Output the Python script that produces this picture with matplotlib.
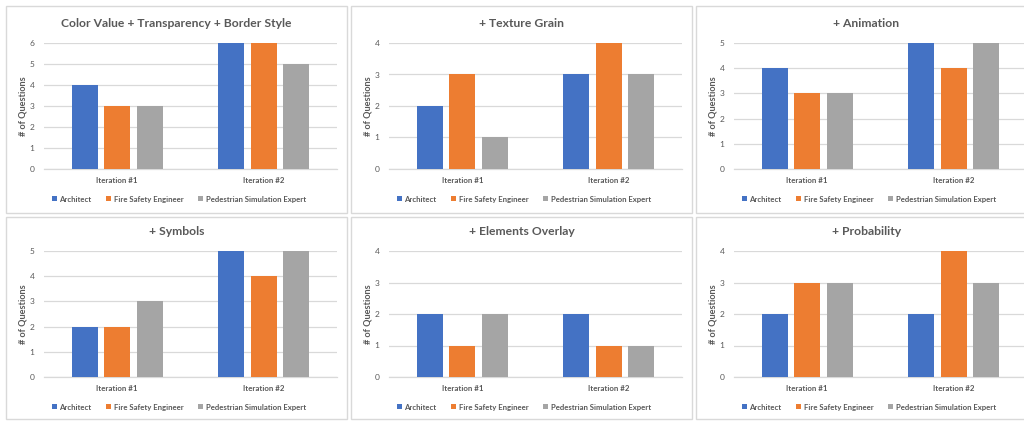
import matplotlib.pyplot as plt
from matplotlib.patches import Rectangle, Patch
import numpy as np

plt.rcParams['font.family'] = ['Lato', 'DejaVu Sans']

# data per panel: questions per role for iteration 1 and 2
titles = ["Color Value + Transparency + Border Style", "+ Texture Grain", "+ Animation",
          "+ Symbols", "+ Elements Overlay", "+ Probability"]
iterations = ["Iteration #1", "Iteration #2"]
roles = ["Architect", "Fire Safety Engineer", "Pedestrian Simulation Expert"]
architect = [[4, 6], [2, 3], [4, 5], [2, 5], [2, 2], [2, 2]]
fire_safety = [[3, 6], [3, 4], [3, 4], [2, 4], [1, 1], [3, 4]]
pedestrian = [[3, 5], [1, 3], [3, 5], [3, 5], [2, 1], [3, 3]]
y_max = [6, 4, 5, 5, 4, 4]

colors = ["#4472C4", "#ED7D31", "#A5A5A5"]
text_col = "#595959"
grid_col = "#D9D9D9"

W, H = 1024, 423
fig = plt.figure(figsize=(W / 100, H / 100), dpi=100)

panel_x = [6, 351, 696]
panel_w = 341
panel_top = [6, 217]
panel_h = [207, 202]
axes_top = [37, 34]


def fig_rect(x, y, w, h):
    # pixel box (from top left) -> figure fraction
    return [x / W, 1 - (y + h) / H, w / W, h / H]


bar_w = 0.178
step = 0.2226
x = np.arange(len(iterations))

for i, title in enumerate(titles):
    row, col = divmod(i, 3)
    px, py, ph = panel_x[col], panel_top[row], panel_h[row]

    box = Rectangle((px / W, 1 - (py + ph) / H), panel_w / W, ph / H,
                    transform=fig.transFigure, facecolor="white",
                    edgecolor="#D9D9D9", lw=1.0, zorder=0)
    fig.add_artist(box)

    ax = fig.add_axes(fig_rect(px + 38, py + axes_top[row], 293, 126))
    ax.set_facecolor("none")
    series = [architect[i], fire_safety[i], pedestrian[i]]
    for k, vals in enumerate(series):
        ax.bar(x + (k - 1) * step, vals, width=bar_w, color=colors[k], zorder=3)

    ax.set_xlim(-0.5, 1.5)
    ax.set_ylim(0, y_max[i])
    ax.set_yticks(range(0, y_max[i] + 1))
    ax.set_xticks(x)
    ax.set_xticklabels(iterations, fontsize=5.7, fontweight="bold", color=text_col)
    ax.tick_params(axis="both", length=0, colors=text_col)
    ax.tick_params(axis="y", pad=7, labelsize=6)
    ax.tick_params(axis="x", pad=6)
    ax.yaxis.grid(True, color=grid_col, lw=0.9)
    ax.set_axisbelow(True)
    for side in ["top", "right", "left"]:
        ax.spines[side].set_visible(False)
    ax.spines["bottom"].set_color(grid_col)
    ax.spines["bottom"].set_linewidth(0.9)

    ax.set_ylabel("# of Questions", fontsize=6.6, fontweight="bold", color=text_col)
    ax.yaxis.set_label_coords(-0.056, 0.5)

    fig.text((px + panel_w / 2) / W, 1 - (py + (17.5 if row == 0 else 14.5)) / H, title,
             ha="center", va="center", fontsize=8.7, fontweight="bold", color=text_col)

    handles = [Patch(facecolor=c, edgecolor="none") for c in colors]
    leg = ax.legend(handles, roles, loc="center", ncol=3, frameon=False,
                    bbox_to_anchor=((px + 173) / W, 1 - (py + (193 if row == 0 else 190)) / H),
                    bbox_transform=fig.transFigure, fontsize=5.6,
                    handlelength=0.65, handleheight=0.65, handletextpad=0.3,
                    columnspacing=1.9, borderpad=0)
    for t in leg.get_texts():
        t.set_color(text_col)
        t.set_fontweight("bold")

fig.savefig("out.png", dpi=100, facecolor="white")
